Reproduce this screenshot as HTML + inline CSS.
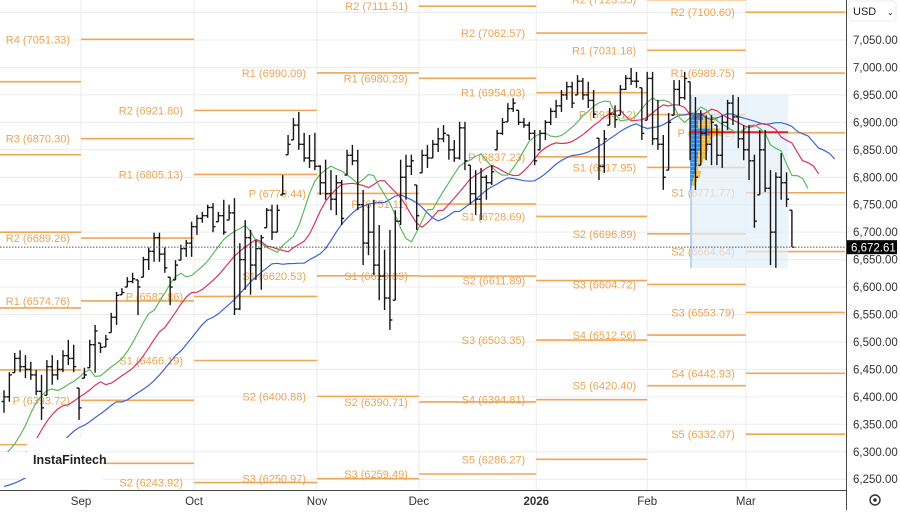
<!DOCTYPE html>
<html><head><meta charset="utf-8">
<style>
html,body{margin:0;padding:0;background:#fff;}
body{width:900px;height:510px;overflow:hidden;font-family:"Liberation Sans",sans-serif;}
svg text{font-family:"Liberation Sans",sans-serif;}
</style></head>
<body>
<svg id="chart" width="900" height="510" viewBox="0 0 900 510" xmlns="http://www.w3.org/2000/svg">
  <rect x="0" y="0" width="900" height="510" fill="#fff"/>
  <g id="grid"></g>
  <g id="pivots"></g>
  <g id="profile"></g>
  <g id="mas"></g>
  <g id="bars"></g>
  <g id="overlay"></g>
  <g id="axes"></g>
</svg>
<script>
// ---------- data ----------
const highs = [6412,6445,6480,6485,6476,6464,6449,6440,6467,6476,6467,6485,6504,6495,6416,6453,6504,6531,6498,6513,
6553,6591,6598,6618,6626,6613,6655,6672,6699,6699,6672,6618,6649,6677,6686,6719,6731,6737,6750,6753,
6737,6759,6750,6762,6680,6722,6704,6686,6695,6744,6750,6750,6804,6877,6908,6919,6881,6877,6881,6822,
6832,6813,6804,6795,6850,6859,6850,6777,6750,6759,6713,6668,6704,6740,6832,6841,6841,6786,6850,6859,
6868,6890,6895,6877,6868,6901,6901,6822,6813,6817,6804,6822,6886,6908,6935,6944,6922,6908,6901,6886,
6886,6904,6926,6941,6959,6974,6974,6986,6981,6974,6959,6871,6886,6926,6931,6968,6986,6999,6992,6963,
6992,6992,6941,6877,6917,6977,6977,6992,6974,6946,6922,6913,6913,6895,6913,6941,6950,6946,6895,6895,
6841,6886,6886,6813,6809,6844,6809,6740];
const lows = [6371,6391,6444,6445,6434,6431,6403,6358,6403,6422,6431,6445,6458,6445,6358,6434,6453,6444,6480,6491,
6517,6531,6586,6600,6607,6549,6618,6631,6646,6646,6626,6567,6613,6649,6655,6655,6695,6717,6726,6700,
6719,6695,6722,6549,6558,6595,6586,6613,6595,6708,6686,6700,6768,6841,6868,6850,6828,6817,6813,6768,
6759,6740,6731,6713,6804,6822,6740,6640,6658,6622,6576,6558,6522,6576,6713,6759,6804,6704,6808,6817,
6835,6846,6864,6832,6828,6832,6813,6750,6731,6722,6759,6786,6850,6877,6901,6919,6895,6890,6868,6822,
6850,6868,6895,6908,6919,6941,6926,6950,6941,6926,6908,6795,6808,6895,6890,6913,6959,6968,6963,6868,
6904,6859,6850,6777,6813,6913,6931,6941,6831,6777,6822,6831,6822,6822,6817,6886,6895,6853,6831,6795,
6708,6768,6773,6640,6635,6759,6746,6673];
const closes = [6400,6440,6470,6455,6450,6440,6410,6380,6455,6440,6450,6475,6470,6455,6380,6440,6495,6520,6490,6505,
6545,6585,6590,6610,6615,6600,6650,6665,6690,6660,6635,6600,6640,6670,6680,6710,6725,6730,6745,6710,
6730,6700,6735,6560,6650,6690,6640,6670,6690,6740,6700,6740,6770,6860,6895,6860,6835,6830,6820,6790,
6770,6760,6790,6725,6840,6830,6750,6680,6700,6640,6620,6580,6540,6720,6800,6820,6830,6730,6840,6835,
6860,6870,6880,6850,6835,6890,6830,6770,6760,6800,6790,6810,6880,6900,6925,6935,6900,6895,6880,6830,
6880,6900,6920,6930,6950,6965,6935,6975,6950,6940,6915,6820,6870,6915,6905,6960,6980,6975,6975,6880,
6980,6870,6860,6800,6900,6960,6945,6980,6850,6800,6880,6860,6900,6840,6900,6935,6910,6870,6850,6830,
6720,6850,6780,6700,6800,6790,6760,6672.61];
const priorMedians = [6260,6270,6285,6300,6315,6330,6345,6360];
const lipsSeed = 6265, teethSeed = 6255, jawSeed = 6235;

const yTicks = [6250,6300,6350,6400,6450,6500,6550,6600,6650,6700,6750,6800,6850,6900,6950,7000,7050];
const gridVals = [6250,6300,6350,6400,6450,6500,6550,6600,6650,6700,6750,6800,6850,6900,6950,7000,7050,7100];
const monthLabels = ['Sep','Oct','Nov','Dec','2026','Feb','Mar'];
const monthIdx = [14.37,35.45,58.4,77.4,99.3,120,138.4];

const periodStart = [-0.75,14.37,35.45,58.4,77.4,99.3,120,138.4];
const periodEnd   = [14.37,35.45,58.4,77.4,99.3,120,138.4,156.9];
const periodNames = [
 ['R3','R2','R1','P','S1','S2'],
 ['R4','R3','R2','R1','P',''],
 ['R2','R1','P','S1','S2'],
 ['R1','P','S1','S2','S3'],
 ['R2','R1','P','S1','S2','S3'],
 ['R2','R1','P','S1','S2','S3','S4','S5'],
 ['R2','R1','P','S1','S2','S3','S4','S5'],
 ['R2','R1','P','S1','S2','S3','S4','S5']];
const periodValues = [
 [6974,6841,6700,6562,6449,6313],
 [7051.33,6870.30,6689.26,6574.76,6393.72,6279.00],
 [6921.80,6805.13,6582.86,6466.19,6243.92],
 [6990.09,6770.44,6620.53,6400.88,6250.97],
 [7111.51,6980.29,6751.11,6619.89,6390.71,6259.49],
 [7062.57,6954.03,6837.23,6728.69,6611.89,6503.35,6394.81,6286.27],
 [7123.35,7031.18,6914.12,6817.95,6696.89,6604.72,6512.56,6420.40],
 [7100.60,6989.75,6880.82,6771.77,6664.64,6553.79,6442.93,6332.07]];

const profilePrices = [6917,6910,6903,6896,6889,6882,6875,6868,6861,6854,6847,6840,6833,6826,6819,6812,6805,6798,6791,6784];
const profileBuy   = [13,13,8,8,20,20,10,10,10,10,8,8,7,7,5,5,4,3,2,1];
const profileSell  = [2,15,14,12,10,12,12,10,8,8,9,8,6,3,3,6,6,4,3,1];
const profileTop = 6950, profileBottom = 6635, profileStart = 128, profileEnd = 146.3, pocValue = 6882;
const lastPrice = 6672.61;

// ---------- scales ----------
const NS='http://www.w3.org/2000/svg';
const plotRight = 846, axisY = 490;
function yS(v){ return 40 + (7050 - v) * 0.549; }
function xS(i){ return 4 + i * 5.36; }
function mk(tag, attrs, parent){ const e=document.createElementNS(NS,tag); for(const k in attrs) e.setAttribute(k,attrs[k]); parent.appendChild(e); return e; }
const G = id => document.getElementById(id);

// grid
const grid = G('grid');
gridVals.forEach(v=>{
  const l = mk('line',{x1:0,x2:plotRight,y1:yS(v),y2:yS(v),stroke:'#ececec','stroke-width':1},grid);
  
  
});
monthIdx.forEach(i=>{
  const l = mk('line',{x1:xS(i),x2:xS(i),y1:0,y2:axisY,stroke:'#ececec','stroke-width':1},grid);
  
  
});

// pivots
const piv = G('pivots');
periodValues.forEach((vals,p)=>{
  const x0 = xS(periodStart[p]), x1 = xS(periodEnd[p]);
  vals.forEach((v,k)=>{
    const y = yS(v);
    const l = mk('line',{x1:x0,x2:x1,y1:y,y2:y,stroke:'#f1a655','stroke-width':1.6},piv);
    
    
    if(!periodNames[p][k]) return;
    const t = mk('text',{x:x0-11,y:y+4,'text-anchor':'end','font-size':11,fill:'#eba453'},piv);
    t.textContent = periodNames[p][k]+' ('+v.toFixed(2)+')';
    
    
  });
});

// volume profile
const prof = G('profile');
const box = mk('rect',{x:xS(profileStart),y:yS(profileTop),width:xS(profileEnd)-xS(profileStart),height:yS(profileBottom)-yS(profileTop),fill:'#e3eef9','fill-opacity':0.7},prof);


const col = mk('rect',{x:xS(profileStart),y:yS(profileTop),width:2,height:yS(profileBottom)-yS(profileTop),fill:'#b9d4ef'},prof);


profilePrices.forEach((p,k)=>{
  const y = yS(p), h = 3.5, x0 = xS(profileStart);
  const b = mk('rect',{x:x0,y:y,width:profileBuy[k],height:h,fill:'#3d8de0'},prof);
  
  
  const s = mk('rect',{x:x0+profileBuy[k],y:y,width:profileSell[k],height:h,fill:'#f4bd45'},prof);
  
  
});

// alligator (SMMA of median price)
const meds = priorMedians.concat(highs.map((h,i)=>(h+lows[i])/2));
function smma(n, seed){ let s=seed; return meds.map(m=>{ s=(s*(n-1)+m)/n; return s; }); }
const mas = G('mas');
[[13,8,jawSeed,'#3b64d8','jaw-line'],[8,5,teethSeed,'#d8345f','teeth-line'],[5,3,lipsSeed,'#5fb85f','lips-line']].forEach(([n,sh,seed,c,name])=>{
  const s = smma(n,seed);
  const pts = s.map((v,i)=>xS(i-priorMedians.length+sh).toFixed(1)+','+yS(v).toFixed(1)).join(' ');
  const pl = mk('polyline',{points:pts,fill:'none',stroke:c,'stroke-width':1.2},mas);
  
  
});
const poc = mk('line',{x1:xS(profileStart),x2:xS(profileEnd),y1:yS(pocValue),y2:yS(pocValue),stroke:'#e32222','stroke-width':2},G('profile'));



// bars
const bars = G('bars');
highs.forEach((h,i)=>{
  const x = xS(i), o = i===0 ? (h+lows[i])/2 : closes[i-1];
  const g = mk('g',{stroke:'#151515','stroke-width':1.4},bars);
  
  
  mk('line',{x1:x,x2:x,y1:yS(h),y2:yS(lows[i])},g);
  const oy = yS(Math.min(Math.max(o,lows[i]),h));
  mk('line',{x1:x-2.5,x2:x,y1:oy,y2:oy},g);
  mk('line',{x1:x,x2:x+2.5,y1:yS(closes[i]),y2:yS(closes[i])},g);
});

// overlay: last price line + watermark
const ov = G('overlay');
const lp = mk('line',{x1:0,x2:plotRight,y1:yS(lastPrice),y2:yS(lastPrice),stroke:'#555','stroke-width':1,'stroke-dasharray':'1.5,1.5'},ov);


const wm = mk('rect',{x:27,y:438,width:76,height:51,fill:'#fff'},ov);


const wm2 = mk('rect',{x:0,y:452,width:103,height:26,fill:'#fff'},ov);


const wt = mk('text',{x:33,y:464,'font-size':12.5,fill:'#222','font-weight':'bold'},ov);
wt.textContent='InstaFintech';



// axes
const ax = G('axes');
const ra = mk('line',{x1:plotRight+0.5,x2:plotRight+0.5,y1:0,y2:510,stroke:'#444','stroke-width':1},ax);


const ba = mk('line',{x1:0,x2:plotRight,y1:axisY+0.5,y2:axisY+0.5,stroke:'#444','stroke-width':1},ax);


yTicks.forEach(v=>{
  const t = mk('text',{x:853,y:yS(v)+4,'font-size':11.5,fill:'#333'},ax);
  t.textContent = v.toLocaleString('en-US',{minimumFractionDigits:2});
  
  
});
monthLabels.forEach((m,k)=>{
  const t = mk('text',{x:xS(monthIdx[k]),y:505,'font-size':11.5,fill:'#333','text-anchor':'middle','font-weight':m==='2026'?'bold':'normal'},ax);
  t.textContent = m;
  
  
});
const pb = mk('rect',{x:847,y:yS(lastPrice)-7,width:50,height:14,fill:'#000'},ax);


const pt = mk('text',{x:851,y:yS(lastPrice)+4.5,'font-size':11.5,fill:'#fff'},ax);
pt.textContent = lastPrice.toLocaleString('en-US',{minimumFractionDigits:2});


const ub = mk('rect',{x:849,y:1,width:47,height:20,rx:3,fill:'#fff',stroke:'#eee'},ax);


const ut = mk('text',{x:853,y:15,'font-size':11,fill:'#222'},ax);
ut.textContent='USD';


const uc = mk('text',{x:887,y:15,'font-size':8,fill:'#222'},ax);
uc.textContent='⌄';


const gear = mk('circle',{cx:875,cy:500,r:5,fill:'none',stroke:'#333','stroke-width':1.4},ax);


const gd = mk('circle',{cx:875,cy:500,r:1.8,fill:'#333'},ax);


</script>
</body></html>
